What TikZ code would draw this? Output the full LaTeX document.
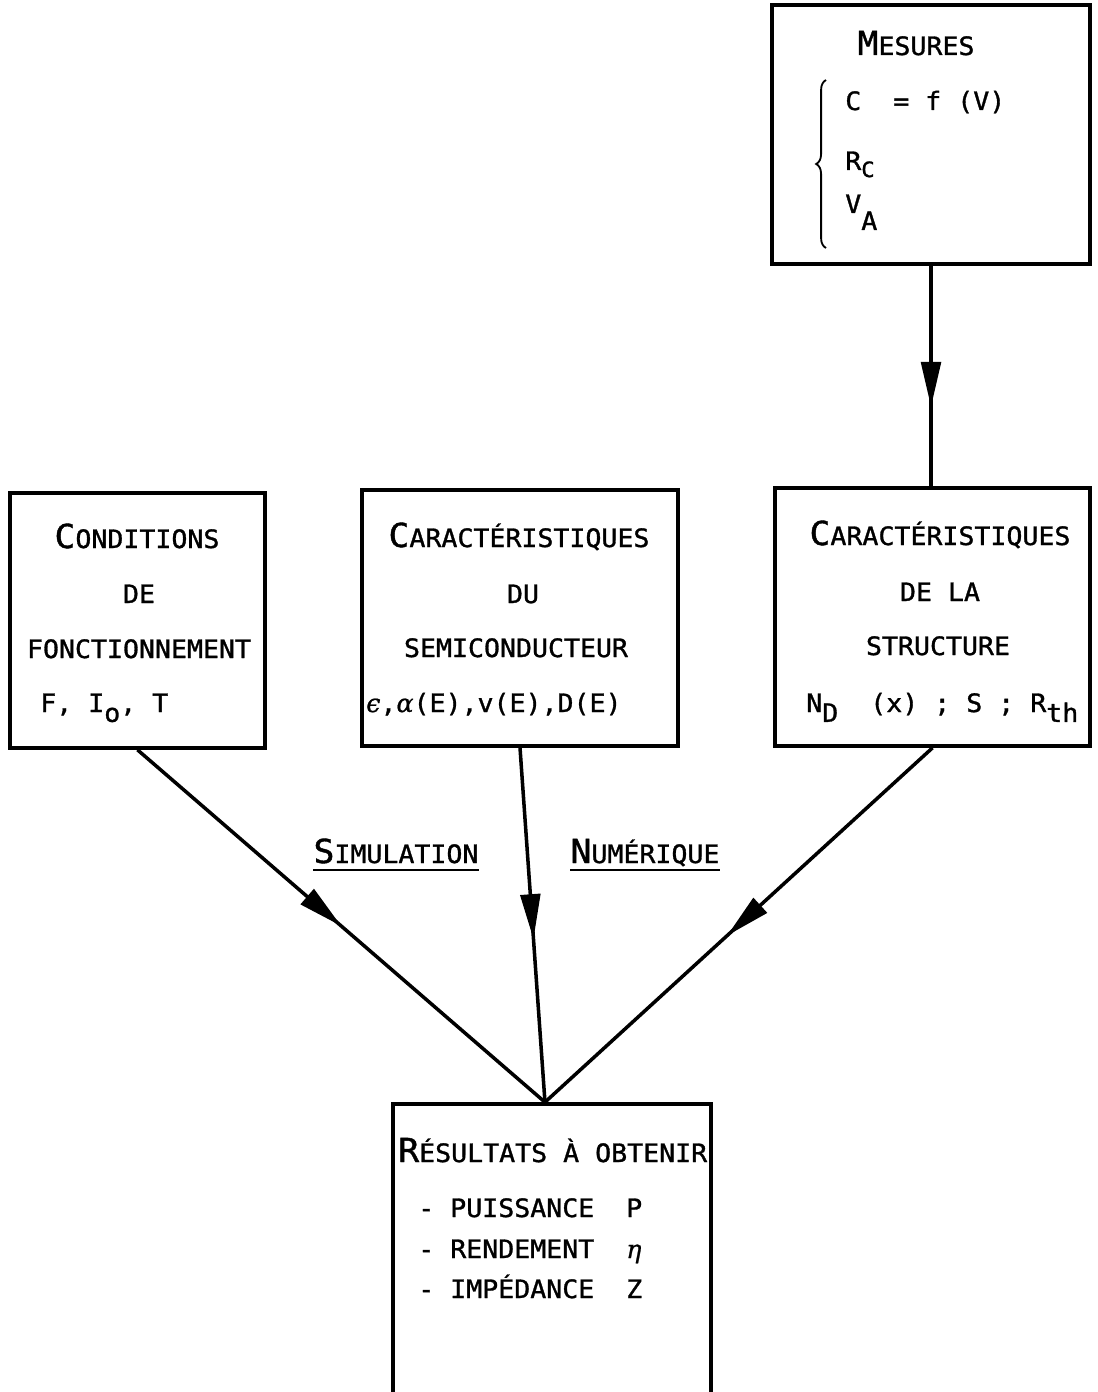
\documentclass[tikz,border=0pt]{standalone}
\usepackage{fontspec}
\setmainfont[FakeStretch=1.05,FakeBold=1.2]{DejaVu Sans Mono}
\newfontfamily\grk[FakeBold=0.8]{DejaVu Serif}
\usetikzlibrary{arrows.meta,decorations.markings,decorations.pathreplacing,fit}

\newcommand{\ini}[1]{{\fontsize{23.5}{26}\selectfont #1}}
\newcommand{\lo}[2][7pt]{\raisebox{-#1}{#2}}
\newcommand{\gr}[1]{{\grk\itshape #1}}

\begin{document}
\begin{tikzpicture}[x=0.025cm,y=-0.025cm,
    box/.style={draw,line width=2.6pt,inner sep=0pt},
    txt/.style={inner sep=0pt,font=\fontsize{18}{20}\selectfont},
    flow/.style={line width=2.5pt,postaction={decorate},
      decoration={markings,mark=at position #1 with {\arrow{Triangle[length=32pt,width=14pt]}}}}]
  \clip (0,0) rectangle (1097,1392);

  % boxes
  \node[box,fit={(772,5) (1090,264)}] (mes) {};
  \node[box,fit={(10,493) (265,748)}] (cond) {};
  \node[box,fit={(362,490) (678,746)}] (semi) {};
  \node[box,fit={(775,488) (1090,746)}] (struc) {};
  \node[box,fit={(393,1104) (711,1440)}] (res) {};

  % mesures
  \node[txt,anchor=base] (mes0) at (916,55) {\ini{M}ESURES};
  \node[txt,anchor=base west] (mes1) at (845,110) {C\ \ = f (V)};
  \node[txt,anchor=base west] (mes2) at (845,170) {R\lo[5pt]{\fontsize{15}{15}\selectfont C}};
  \node[txt,anchor=base west] (mes3) at (845,213) {V\lo[12pt]{A}};
  \draw[line width=1.3pt,decorate,decoration={brace,amplitude=7pt}] (826,248) -- (826,80);

  % conditions
  \node[txt,anchor=base] (cond1) at (137,548) {\ini{C}ONDITIONS};
  \node[txt,anchor=base] (cond2) at (139,603) {DE};
  \node[txt,anchor=base] (cond3) at (139,658) {FONCTIONNEMENT};
  \node[txt,anchor=base west] (cond4) at (40,712) {F, I\lo{o}, T};

  % semiconducteur
  \node[txt,anchor=base] (semi1) at (519,547) {\ini{C}ARACTÉRISTIQUES};
  \node[txt,anchor=base] (semi2) at (523,603) {DU};
  \node[txt,anchor=base] (semi3) at (516,657) {SEMICONDUCTEUR};
  \node[txt,anchor=base west] (semi4) at (366,712) {\gr{ϵ},\gr{α}(E),v(E),D(E)};

  % structure
  \node[txt,anchor=base] (struc1) at (940,545) {\ini{C}ARACTÉRISTIQUES};
  \node[txt,anchor=base] (struc2) at (940,601) {DE LA};
  \node[txt,anchor=base] (struc3) at (938,655) {STRUCTURE};
  \node[txt,anchor=base west] (struc4) at (806,712) {N\lo{D}\ \ (x) ; S ; R\lo{th}};

  % resultats
  \node[txt,anchor=base west] (res1) at (398,1162) {\ini{R}ÉSULTATS À OBTENIR};
  \node[txt,anchor=base west] (res2) at (418,1217) {- PUISSANCE\ \ P};
  \node[txt,anchor=base west] (res3) at (418,1258) {- RENDEMENT\ \ \gr{η}};
  \node[txt,anchor=base west] (res4) at (418,1298) {- IMPÉDANCE\ \ Z};

  % labels
  \node[txt,anchor=base] (sim) at (396,863) {\ini{S}IMULATION};
  \node[txt,anchor=base] (num) at (645,863) {\ini{N}UMÉRIQUE};
  \draw[line width=1.6pt] ([yshift=-5pt]sim.base west) -- ([yshift=-5pt]sim.base east);
  \draw[line width=1.6pt] ([yshift=-5pt]num.base west) -- ([yshift=-5pt]num.base east);

  % connectors
  \draw[flow=0.64] (mes.south) -- (mes.south |- struc.north);
  \draw[flow=0.5] (cond.south) -- ([xshift=-5pt]res.north);
  \draw[flow=0.54] (semi.south) -- ([xshift=-5pt]res.north);
  \draw[flow=0.53] (struc.south) -- ([xshift=-5pt]res.north);
\end{tikzpicture}
\end{document}
